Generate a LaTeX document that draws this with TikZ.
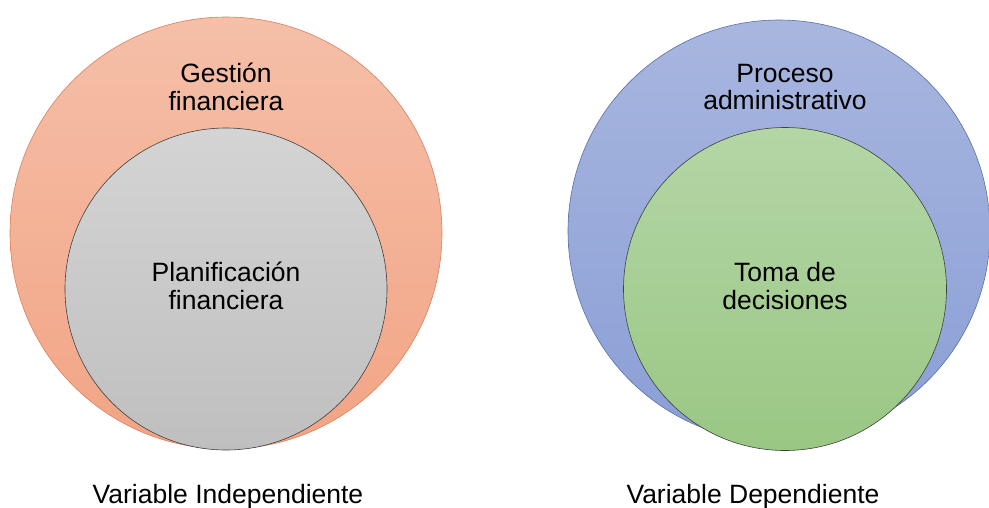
\documentclass[tikz,border=0pt]{standalone}
\usepackage{fontspec}
\setmainfont{Liberation Sans}
\definecolor{orA}{HTML}{F5BFA8}
\definecolor{orB}{HTML}{F2A485}
\definecolor{orE}{HTML}{D9805C}
\definecolor{grA}{HTML}{D4D4D4}
\definecolor{grB}{HTML}{BFBFBF}
\definecolor{blueA}{HTML}{A8B6DF}
\definecolor{blueB}{HTML}{8A9FD6}
\definecolor{blueE}{HTML}{5A70A8}
\definecolor{greenA}{HTML}{B4D6A6}
\definecolor{greenB}{HTML}{9AC784}
\begin{document}
\begin{tikzpicture}[x=1pt,y=-1pt,
  lbl/.style={font=\fontsize{26.5}{27.5}\selectfont, align=center, text=black, inner sep=0pt},
  disc/.style={circle, inner sep=0pt, line width=0.6pt},
]
\useasboundingbox (0,0) rectangle (989,507);
% left
\node[disc, minimum size=432pt, draw=orE, top color=orA, bottom color=orB] (gf) at (226,233) {};
\node[disc, minimum size=322pt, draw=black!75, top color=grA, bottom color=grB] (pf) at (226,289) {};
\node[lbl] (gft) at (226,87) {Gestión\\financiera};
\node[lbl] (pft) at (226,286) {Planificación\\financiera};
% right
\node[disc, minimum size=422pt, draw=blueE, top color=blueA, bottom color=blueB] (pa) at (779,231) {};
\node[disc, minimum size=323pt, draw=black!75, top color=greenA, bottom color=greenB] (td) at (785,289) {};
\node[lbl] (pat) at (785,87) {Proceso\\administrativo};
\node[lbl] (tdt) at (785,286) {Toma de\\decisiones};
% captions
\node[lbl, anchor=base] (vi) at (228,503) {Variable Independiente};
\node[lbl, anchor=base] (vd) at (753,503) {Variable Dependiente};
\end{tikzpicture}
\end{document}
